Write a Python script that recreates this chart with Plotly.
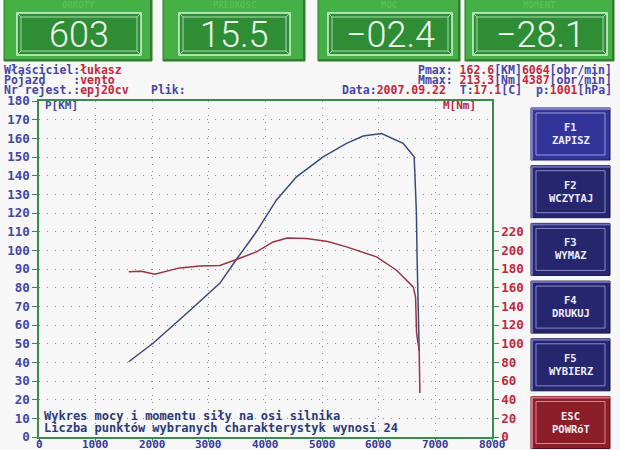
import plotly.graph_objects as go

# ---------------- data ----------------
rpm_power = [1585, 2014, 2600, 3193, 3488, 3841, 4194, 4548, 5018, 5431, 5724, 6049, 6431, 6625, 6640, 6665, 6678, 6714]
power_km = [40.3, 50.2, 66.0, 82.3, 95.2, 110.0, 127.0, 139.4, 150.1, 157.3, 161.2, 162.6, 157.3, 150.1, 139.4, 120.0, 94.8, 46.0]

rpm_torque = [1585, 1809, 2044, 2486, 2839, 3193, 3488, 3841, 4134, 4387, 4724, 5100, 5431, 5961, 6314, 6608, 6650, 6668, 6714, 6726]
torque_nm = [177.0, 177.7, 174.4, 181.2, 183.3, 183.8, 190.2, 198.4, 209.0, 213.3, 212.7, 209.5, 203.7, 193.0, 178.7, 160.8, 150.0, 110.9, 93.0, 47.2]

left_ticks = list(range(0, 181, 10))
right_ticks = list(range(0, 221, 20))
x_ticks = list(range(0, 8001, 1000))

panel_titles = ["OBROTY", "PREDKOSC", "MOC", "MOMENT"]
panel_values = ["603", "15.5", "\u221202.4", "\u221228.1"]

button_keys = ["F1", "F2", "F3", "F4", "F5", "ESC"]
button_labels = ["ZAPISZ", "WCZYTAJ", "WYMAZ", "DRUKUJ", "WYBIERZ", "POWRóT"]

# ---------------- geometry helpers ----------------
L, R, T, B = 39, 492, 101, 437
W, H = 620, 450


def px(x):
    return (x - L) / (R - L)


def py(y):
    return 1 - (y - T) / (B - T)


MONO = "DejaVu Sans Mono"
BLUE_T = "#4646a6"
RED_T = "#c0283c"

fig = go.Figure()

fig.add_trace(go.Scatter(x=rpm_power, y=power_km, mode="lines",
                         line=dict(color="#3b4a78", width=1.5), yaxis="y",
                         showlegend=False, hoverinfo="skip"))
fig.add_trace(go.Scatter(x=rpm_torque, y=torque_nm, mode="lines",
                         line=dict(color="#9a3444", width=1.5), yaxis="y2",
                         showlegend=False, hoverinfo="skip"))

shapes = []
annotations = []


def rect(x0, y0, x1, y1, fill=None, line=None, lw=1, layer="above"):
    d = dict(type="rect", xref="paper", yref="paper",
             x0=px(x0), x1=px(x1), y0=py(y1), y1=py(y0), layer=layer,
             line=dict(width=lw if line else 0, color=line or "rgba(0,0,0,0)"))
    if fill:
        d["fillcolor"] = fill
    shapes.append(d)


def seg(x0, y0, x1, y1, color, lw=1):
    shapes.append(dict(type="line", xref="paper", yref="paper",
                       x0=px(x0), x1=px(x1), y0=py(y0), y1=py(y1),
                       line=dict(color=color, width=lw)))


def text(x, y, s, color, size=11, xanchor="left", family=MONO, weight="bold"):
    annotations.append(dict(xref="paper", yref="paper", x=px(x), y=py(y), text=s,
                            showarrow=False, xanchor=xanchor, yanchor="middle",
                            borderpad=0,
                            font=dict(family=family, size=size, color=color, weight=weight)))


# ---------------- top green panels ----------------
panels = [(4, 152, 17, 141), (163, 305, 179, 290), (318, 460, 328, 452), (465, 614, 473, 607)]
for (x0, x1, ix0, ix1), title, val in zip(panels, panel_titles, panel_values):
    rect(x0, -2, x1, 61, fill="#45b045", line="#2c7a2c", lw=1)
    seg(x0 + 1, 60, x1 - 1, 60, "#2f7f2f", 2)
    seg(x1 - 1, 0, x1 - 1, 60, "#2f7f2f", 2)
    rect(ix0, 13, ix1, 55, fill="#2f8d36", line="#d6f4d6", lw=1.5)
    rect(ix0 + 4, 17, ix1 - 4, 51, line="#a9dea9", lw=1)
    seg(ix0, 13, ix0 + 4, 17, "#a9dea9", 1)
    seg(ix1, 13, ix1 - 4, 17, "#a9dea9", 1)
    seg(ix0, 55, ix0 + 4, 51, "#a9dea9", 1)
    seg(ix1, 55, ix1 - 4, 51, "#a9dea9", 1)
    text((x0 + x1) / 2, 5, title, "#58bd58", size=9, xanchor="center")
    text((ix0 + ix1) / 2, 35, val, "#eef9ee", size=36, xanchor="center",
         family="Roboto", weight=300)

# ---------------- header text ----------------
b = lambda s: f"<span style='color:{BLUE_T}'>{s}</span>"
r = lambda s: f"<span style='color:{RED_T}'>{s}</span>"
HS = 11.5
text(3, 70, b("Właściciel:") + r("łukasz"), BLUE_T, size=HS)
text(3, 80, b("Pojazd    :") + r("vento"), BLUE_T, size=HS)
text(3, 90, b("Nr rejest.:") + r("epj20cv"), BLUE_T, size=HS)
text(150, 90, b("Plik:"), BLUE_T, size=HS)
text(613, 70, b("Pmax: ") + r("162.6") + b("[KM]") + r("6064") + b("[obr/min]"), BLUE_T, size=HS, xanchor="right")
text(613, 80, b("Mmax: ") + r("213.3") + b("[Nm]") + r("4387") + b("[obr/min]"), BLUE_T, size=HS, xanchor="right")
text(613, 90, b("Data:") + r("2007.09.22") + "  " + b("T:") + r("17.1") + b("[C]") + "  "
     + b("p:") + r("1001") + b("[hPa]"), BLUE_T, size=HS, xanchor="right")

# ---------------- buttons ----------------
for i, (k, lab) in enumerate(zip(button_keys, button_labels)):
    y0 = 108 + i * 57.7
    y1 = y0 + 52
    if k == "ESC":
        fill, hi, lo, inner = "#8c1e28", "#d8707e", "#5a0e14", "#d88894"
    elif k == "F1":
        fill, hi, lo, inner = "#33349a", "#7a7ac8", "#1a1a55", "#9a9ad6"
    else:
        fill, hi, lo, inner = "#25266e", "#6a6ab8", "#15153f", "#8a8ac8"
    rect(531, y0, 610, y1, fill=fill, line=lo, lw=1)
    seg(531, y0 + 1, 610, y0 + 1, hi, 2)
    seg(532, y0, 532, y1, hi, 2)
    rect(536, y0 + 5, 605, y1 - 5, line=inner, lw=1)
    text(570.5, y0 + 19, k, "#ececfa", size=10.5, xanchor="center")
    text(570.5, y0 + 32, lab, "#ececfa", size=10.5, xanchor="center")

# ---------------- in-plot labels ----------------
text(44, 106, "P[KM]", BLUE_T)
text(477, 106, "M[Nm]", RED_T, xanchor="right")
text(43, 416, "Wykres mocy i momentu siły na osi silnika", "#2c3c7c", size=12)
text(43, 428, "Liczba punktów wybranych charakterystyk wynosi 24", "#2c3c7c", size=12)

# x tick labels placed via the x axis scale, just under the axis
for v in x_ticks:
    annotations.append(dict(xref="x", yref="paper", x=v, y=py(444), text=str(v),
                            showarrow=False, xanchor="center", yanchor="middle",
                            borderpad=0,
                            font=dict(family=MONO, size=11, color="#38389a", weight="bold")))

fig.update_layout(
    width=W, height=H,
    margin=dict(l=L, r=W - R, t=T, b=H - B, autoexpand=False),
    paper_bgcolor="#f6f7f6", plot_bgcolor="#f6f7f6",
    showlegend=False,
    shapes=shapes, annotations=annotations,
    xaxis=dict(range=[0, 8000], tickvals=x_ticks, showticklabels=False,
               showgrid=True, gridcolor="#8c8c8c", griddash="1px,6px", gridwidth=1,
               showline=True, linecolor="#3c8a50", linewidth=1.5, mirror=True,
               ticks="outside", ticklen=3, tickcolor="#3c8a50",
               zeroline=False, fixedrange=True),
    yaxis=dict(range=[0, 180], tickvals=left_ticks,
               showgrid=True, gridcolor="#8c8c8c", griddash="1px,7px", gridwidth=1,
               showline=True, linecolor="#3c8a50", linewidth=1.5,
               ticks="outside", ticklen=5, tickcolor="#3c8a50",
               tickfont=dict(family=MONO, size=12.5, color=BLUE_T, weight="bold"),
               zeroline=False, fixedrange=True),
    yaxis2=dict(range=[0, 360], tickvals=right_ticks, overlaying="y", side="right",
                showgrid=False, showline=True, linecolor="#3c8a50", linewidth=1.5,
                ticks="outside", ticklen=5, tickcolor="#3c8a50",
                tickfont=dict(family=MONO, size=12.5, color=RED_T, weight="bold"),
                zeroline=False, fixedrange=True),
)

fig.write_html("out.html", config={"displayModeBar": False},
               post_script="document.body.style.margin='0';document.body.style.padding='0';")
